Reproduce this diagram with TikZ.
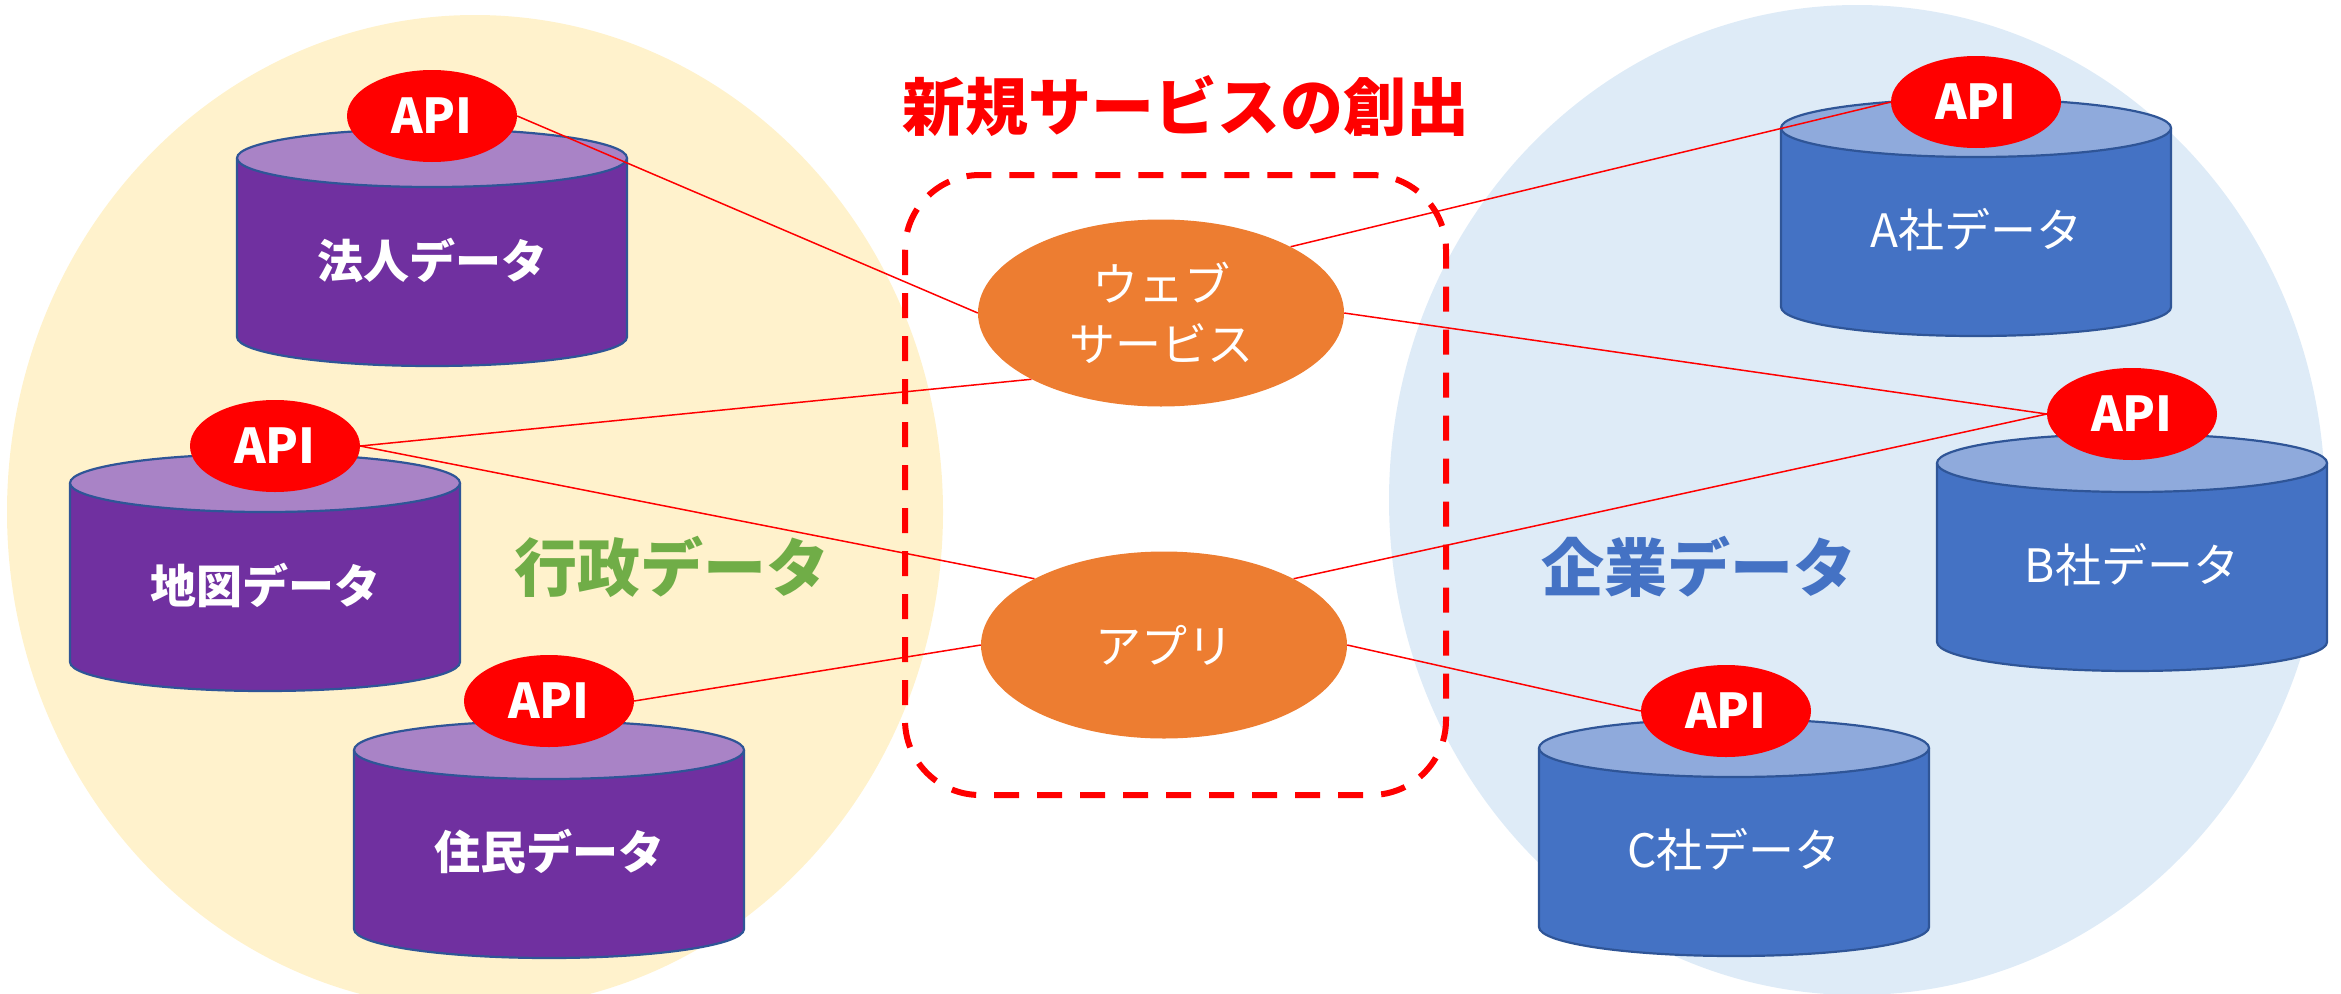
\documentclass[tikz,border=0pt]{standalone}
\usepackage{fontspec}
\newfontfamily\jp{Noto Sans CJK JP}
\usetikzlibrary{shapes.geometric}
\definecolor{cream}{HTML}{FFF2CC}
\definecolor{paleblue}{HTML}{DEEBF7}
\definecolor{purplebody}{HTML}{7030A0}
\definecolor{purpletop}{HTML}{A983C6}
\definecolor{bluebody}{HTML}{4472C4}
\definecolor{bluetop}{HTML}{8FAADC}
\definecolor{cyledge}{HTML}{2F5597}
\definecolor{orangefill}{HTML}{ED7D31}
\definecolor{govgreen}{HTML}{70AD47}
\definecolor{corpblue}{HTML}{4472C4}
\pgfdeclarelayer{bg}
\pgfdeclarelayer{lines}
\pgfsetlayers{bg,lines,main}
\tikzset{
  cylline/.style={draw=cyledge, line width=2.2pt},
  apinode/.style={ellipse, fill=red, draw=none, inner sep=0pt, minimum width=170pt, minimum height=92pt,
    text=white, font=\jp\bfseries\fontsize{48}{52}\selectfont},
  svcnode/.style={ellipse, fill=orangefill, draw=none, inner sep=0pt, minimum width=366pt, minimum height=187pt,
    text=white, align=center, font=\jp\fontsize{46}{60}\selectfont},
  govlabel/.style={text=white, font=\jp\bfseries\fontsize{46}{50}\selectfont},
  corplabel/.style={text=white, font=\jp\fontsize{46}{50}\selectfont},
  grouplabel/.style={font=\jp\bfseries\fontsize{63}{70}\selectfont},
  conn/.style={draw=red, line width=1.5pt},
  creation/.style={draw=red, line width=6pt, dash pattern=on 25pt off 18pt, rounded corners=75pt}
}
% #1 node name, #2 centre x, #3 top y, #4 body colour, #5 top colour, #6 label style, #7 label
\newcommand\dbcyl[7]{%
  \fill[#4] (#2-195,#3) rectangle (#2+195,#3+179);
  \fill[#4] (#2,#3+179) ellipse[x radius=195, y radius=29];
  \draw[cylline] (#2-195,#3) -- (#2-195,#3+179) arc[start angle=180, end angle=0, x radius=195, y radius=29] -- (#2+195,#3);
  \draw[cylline, fill=#5] (#2,#3) ellipse[x radius=195, y radius=29];
  \node[#6] (#1) at (#2,#3+102) {#7};
}
\begin{document}
\begin{tikzpicture}[x=1pt,y=-1pt]
\useasboundingbox (0,0) rectangle (2341,993);
\begin{pgfonlayer}{bg}
  \begin{scope}
    \clip (0,0) rectangle (2341,993);
    \fill[cream] (475,512) ellipse[x radius=468, y radius=497];
    \fill[paleblue] (1857,500) ellipse[x radius=468, y radius=495];
  \end{scope}
  \node[grouplabel, text=govgreen] (gov) at (672,567) {行政データ};
  \node[grouplabel, text=corpblue] (corp) at (1699,567) {企業データ};
  \dbcyl{hojin}{432}{158}{purplebody}{purpletop}{govlabel}{法人データ}
  \dbcyl{chizu}{265}{483}{purplebody}{purpletop}{govlabel}{地図データ}
  \dbcyl{jumin}{549}{750}{purplebody}{purpletop}{govlabel}{住民データ}
  \dbcyl{compA}{1976}{128}{bluebody}{bluetop}{corplabel}{A社データ}
  \dbcyl{compB}{2132}{463}{bluebody}{bluetop}{corplabel}{B社データ}
  \dbcyl{compC}{1734}{748}{bluebody}{bluetop}{corplabel}{C社データ}
\end{pgfonlayer}

\node[grouplabel, text=red] (title) at (1186,106) {新規サービスの創出};

\node[apinode] (api1) at (432,116) {API};
\node[apinode] (api2) at (275,446) {API};
\node[apinode] (api3) at (549,701) {API};
\node[apinode] (apiA) at (1976,102) {API};
\node[apinode] (apiB) at (2132,414) {API};
\node[apinode] (apiC) at (1726,711) {API};

\node[svcnode] (web) at (1161,313) {ウェブ\\サービス};
\node[svcnode] (app) at (1164,645) {アプリ};

\begin{pgfonlayer}{lines}
  \draw[conn] (api1.east) -- (web.west);
  \draw[conn] (api2.east) -- (web.south west);
  \draw[conn] (api2.east) -- (app.north west);
  \draw[conn] (api3.east) -- (app.west);
  \draw[conn] (web.north east) -- (apiA.west);
  \draw[conn] (web.east) -- (apiB.west);
  \draw[conn] (app.north east) -- (apiB.west);
  \draw[conn] (app.east) -- (apiC.west);
\end{pgfonlayer}

\draw[creation] (905,175) rectangle (1446,795);
\end{tikzpicture}
\end{document}
